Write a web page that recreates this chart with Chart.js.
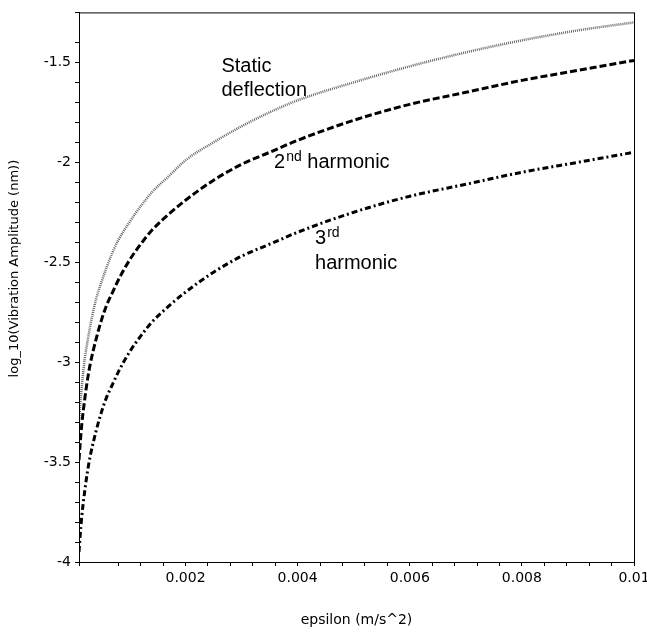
<!DOCTYPE html>
<html>
<head>
<meta charset="utf-8">
<script src="https://cdn.jsdelivr.net/npm/chart.js"></script>
<style>
  html, body { margin: 0; padding: 0; background: #fff; }
</style>
</head>
<body>
<canvas id="myChart" width="647" height="637"></canvas>
<script>
// values
const epsilon = [0.0001, 0.00012, 0.00015, 0.0002, 0.00025, 0.0003, 0.0004, 0.0005, 0.0006, 0.0007,
                 0.0008, 0.001, 0.0012, 0.0014, 0.0017, 0.002, 0.0025, 0.003, 0.0035, 0.004,
                 0.005, 0.006, 0.007, 0.008, 0.009, 0.01];
const staticDeflection = [-3.30, -3.22, -3.12, -2.99, -2.90, -2.82, -2.69, -2.60, -2.52, -2.45,
                          -2.39, -2.30, -2.22, -2.15, -2.07, -1.99, -1.90, -1.82, -1.75, -1.69,
                          -1.60, -1.52, -1.45, -1.39, -1.34, -1.30];
const secondHarmonic = [-3.49, -3.41, -3.31, -3.19, -3.09, -3.01, -2.89, -2.79, -2.71, -2.65,
                        -2.59, -2.49, -2.41, -2.34, -2.26, -2.19, -2.09, -2.01, -1.95, -1.89,
                        -1.79, -1.71, -1.65, -1.59, -1.54, -1.49];
const thirdHarmonic = [-3.95, -3.87, -3.77, -3.65, -3.55, -3.47, -3.35, -3.25, -3.17, -3.11,
                       -3.05, -2.95, -2.87, -2.80, -2.72, -2.65, -2.55, -2.47, -2.41, -2.35,
                       -2.25, -2.17, -2.11, -2.05, -2.00, -1.95];
const xTickLabels = [0.002, 0.004, 0.006, 0.008, 0.01];
const yTickLabels = [-4, -3.5, -3, -2.5, -2, -1.5];

// curve labels, anchored in data units
const notes = [
    {x: 0.00264, y: -1.549, text: 'Static'},
    {x: 0.00264, y: -1.668, text: 'deflection'},
    {x: 0.00358, y: -2.030, text: '2', sup: 'nd', after: ' harmonic'},
    {x: 0.00431, y: -2.409, text: '3', sup: 'rd'},
    {x: 0.00431, y: -2.533, text: 'harmonic'}
];

function pts(ys) {
    return epsilon.map((x, i) => ({x: x, y: ys[i]}));
}
function isLabel(list, v) {
    return list.some(t => Math.abs(t - v) < 1e-7);
}

Chart.defaults.font.family = 'DejaVu Sans';
Chart.defaults.font.size = 14;
Chart.defaults.color = '#000';

const notesPlugin = {
    id: 'notes',
    afterDatasetsDraw(chart) {
        const ctx = chart.ctx;
        const xs = chart.scales.x, ys = chart.scales.y;
        ctx.save();
        ctx.fillStyle = '#000';
        ctx.textBaseline = 'alphabetic';
        notes.forEach(n => {
            let px = xs.getPixelForValue(n.x);
            const py = ys.getPixelForValue(n.y);
            ctx.font = '20px "Liberation Sans", Arial, sans-serif';
            ctx.fillText(n.text, px, py);
            px += ctx.measureText(n.text).width;
            if (n.sup) {
                ctx.font = '14px "Liberation Sans", Arial, sans-serif';
                ctx.fillText(n.sup, px + 1, py - 7);
                px += ctx.measureText(n.sup).width + 1;
            }
            if (n.after) {
                ctx.font = '20px "Liberation Sans", Arial, sans-serif';
                ctx.fillText(n.after, px, py);
            }
        });
        // box around the plot
        const a = chart.chartArea;
        ctx.strokeStyle = '#000';
        ctx.lineWidth = 1;
        ctx.strokeRect(a.left + 0.5, a.top + 0.5, a.right - a.left, a.bottom - a.top);
        ctx.restore();
    }
};

const ctx = document.getElementById('myChart');
const myChart = new Chart(ctx, {
    type: 'line',
    data: {
        datasets: [{
            label: 'Static deflection',
            data: pts(staticDeflection),
            borderColor: '#666',
            borderWidth: 2.5,
            borderDash: [1, 1]
        }, {
            label: '2nd harmonic',
            data: pts(secondHarmonic),
            borderColor: '#000',
            borderWidth: 3,
            borderDash: [7, 3]
        }, {
            label: '3rd harmonic',
            data: pts(thirdHarmonic),
            borderColor: '#000',
            borderWidth: 3,
            borderDash: [6, 3, 2, 3]
        }]
    },
    options: {
        responsive: false,
        animation: false,
        devicePixelRatio: 1,
        elements: {
            point: { radius: 0 },
            line: { cubicInterpolationMode: 'monotone', fill: false }
        },
        layout: { padding: { top: 4, right: 13, left: 0, bottom: 0 } },
        plugins: {
            legend: { display: false },
            tooltip: { enabled: false }
        },
        scales: {
            x: {
                type: 'linear',
                min: 0.0001,
                max: 0.01,
                grid: { display: true, drawOnChartArea: false, tickLength: 4, color: '#000' },
                border: { display: true, color: '#000', width: 1 },
                ticks: {
                    stepSize: 0.0004,
                    autoSkip: false,
                    maxRotation: 0,
                    padding: 4,
                    callback: v => isLabel(xTickLabels, v) ? String(+v.toFixed(4)) : ''
                },
                title: { display: true, text: 'epsilon (m/s^2)', padding: { top: 0, bottom: 8 } },
                afterFit: s => { s.height = 75; s.paddingRight = 0; }
            },
            y: {
                min: -4,
                max: -1.25,
                grid: { display: true, drawOnChartArea: false, tickLength: 4, color: '#000' },
                border: { display: true, color: '#000', width: 1 },
                ticks: {
                    stepSize: 0.1,
                    autoSkip: false,
                    padding: 4,
                    callback: v => isLabel(yTickLabels, v) ? String(+v.toFixed(1)) : ''
                },
                title: {
                    display: true,
                    text: '         log_10(Vibration Amplitude (nm))',
                    font: { size: 13 },
                    padding: { top: 7, bottom: 0 }
                },
                afterFit: s => { s.width = 79; }
            }
        }
    },
    plugins: [notesPlugin]
});
</script>
</body>
</html>
